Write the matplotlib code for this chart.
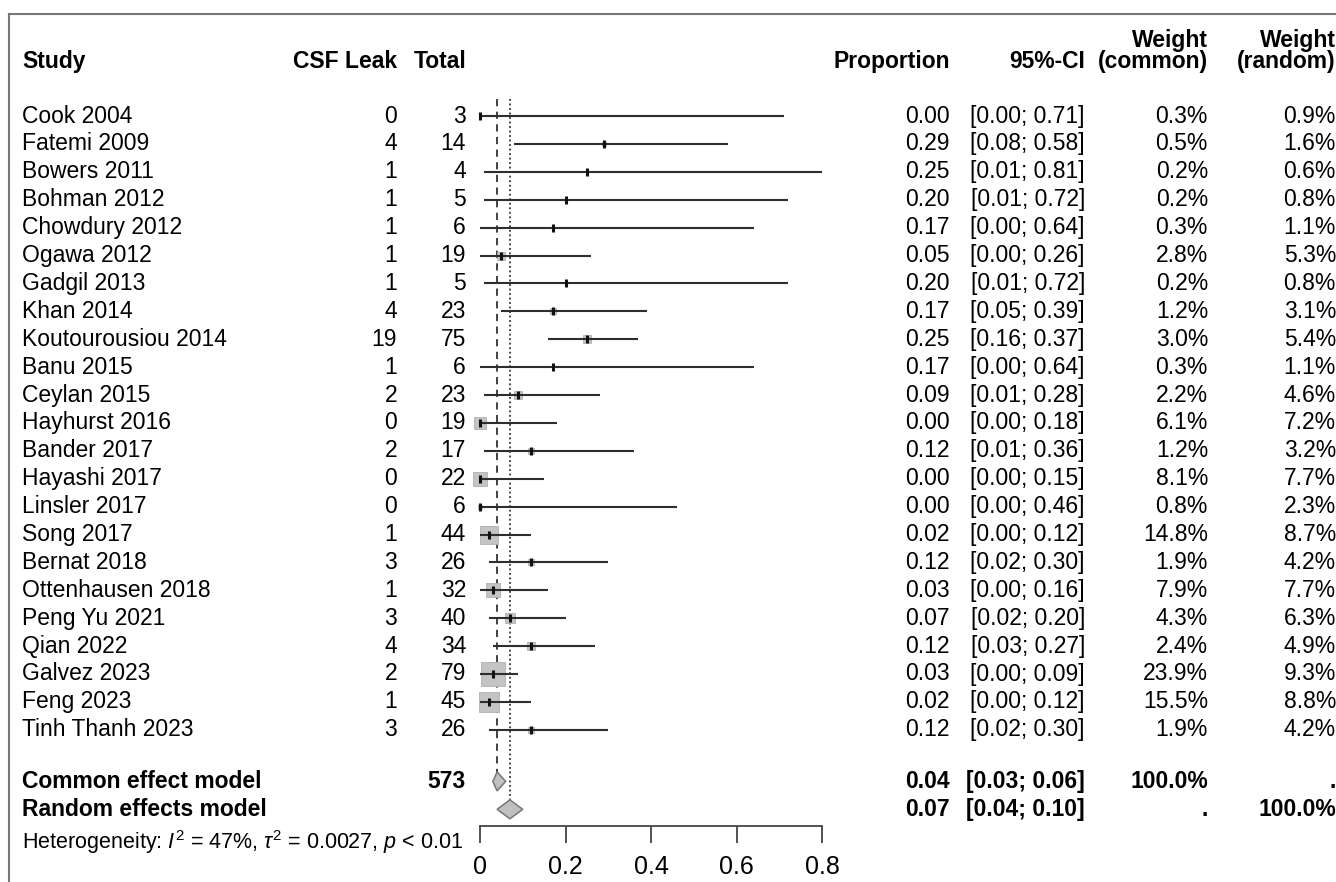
#!/usr/bin/env python3
from __future__ import annotations

import matplotlib
matplotlib.use("Agg")
import matplotlib.pyplot as plt
from matplotlib import transforms
from matplotlib.lines import Line2D
from matplotlib.patches import Polygon

plt.rcParams["font.family"] = ["Liberation Sans", "DejaVu Sans"]
plt.rcParams["mathtext.fontset"] = "custom"
plt.rcParams["mathtext.rm"] = "Liberation Sans"
plt.rcParams["mathtext.it"] = "Liberation Sans:italic"

studies = [
    "Cook 2004", "Fatemi 2009", "Bowers 2011", "Bohman 2012", "Chowdury 2012",
    "Ogawa 2012", "Gadgil 2013", "Khan 2014", "Koutourousiou 2014", "Banu 2015",
    "Ceylan 2015", "Hayhurst 2016", "Bander 2017", "Hayashi 2017", "Linsler 2017",
    "Song 2017", "Bernat 2018", "Ottenhausen 2018", "Peng Yu 2021", "Qian 2022",
    "Galvez 2023", "Feng 2023", "Tinh Thanh 2023",
]
events = [0, 4, 1, 1, 1, 1, 1, 4, 19, 1, 2, 0, 2, 0, 0, 1, 3, 1, 3, 4, 2, 1, 3]
totals = [3, 14, 4, 5, 6, 19, 5, 23, 75, 6, 23, 19, 17, 22, 6, 44, 26, 32, 40, 34, 79, 45, 26]
prop = [0.00, 0.29, 0.25, 0.20, 0.17, 0.05, 0.20, 0.17, 0.25, 0.17, 0.09, 0.00,
        0.12, 0.00, 0.00, 0.02, 0.12, 0.03, 0.07, 0.12, 0.03, 0.02, 0.12]
ci_low = [0.00, 0.08, 0.01, 0.01, 0.00, 0.00, 0.01, 0.05, 0.16, 0.00, 0.01, 0.00,
          0.01, 0.00, 0.00, 0.00, 0.02, 0.00, 0.02, 0.03, 0.00, 0.00, 0.02]
ci_high = [0.71, 0.58, 0.81, 0.72, 0.64, 0.26, 0.72, 0.39, 0.37, 0.64, 0.28, 0.18,
           0.36, 0.15, 0.46, 0.12, 0.30, 0.16, 0.20, 0.27, 0.09, 0.12, 0.30]
w_common = [0.3, 0.5, 0.2, 0.2, 0.3, 2.8, 0.2, 1.2, 3.0, 0.3, 2.2, 6.1, 1.2, 8.1,
            0.8, 14.8, 1.9, 7.9, 4.3, 2.4, 23.9, 15.5, 1.9]
w_random = [0.9, 1.6, 0.6, 0.8, 1.1, 5.3, 0.8, 3.1, 5.4, 1.1, 4.6, 7.2, 3.2, 7.7,
            2.3, 8.7, 4.2, 7.7, 6.3, 4.9, 9.3, 8.8, 4.2]

common_est, common_ci = 0.04, (0.03, 0.06)
random_est, random_ci = 0.07, (0.04, 0.10)
total_n = 573
axis_ticks = [0, 0.2, 0.4, 0.6, 0.8]

W, H = 1336, 882
FS = 16.5
fig = plt.figure(figsize=(W / 100, H / 100), dpi=100)

# forest panel: x 0..0.8 -> px 480..822, bottom at px 826
ax = fig.add_axes([480 / W, (H - 826) / H, (822 - 480) / W, 826 / H])
row_px = 27.9
y_top_px = 116
ax.set_xlim(0, 0.8)
ax.set_ylim((826 - y_top_px) / row_px, -y_top_px / row_px)
for s in ["top", "right", "left"]:
    ax.spines[s].set_visible(False)
ax.spines["bottom"].set_color("#444444")
ax.spines["bottom"].set_linewidth(1.3)
ax.set_yticks([])
ax.set_xticks(axis_ticks)
ax.set_xticklabels(["0" if t == 0 else f"{t:g}" for t in axis_ticks], fontsize=18)
ax.tick_params(axis="x", length=12, width=1.3, color="#444444", pad=9)
ax.patch.set_visible(False)

n = len(studies)
rows = list(range(n))
y_common = n + 0.85
y_random = n + 1.85
y_head = -1.94
y_head2 = -2.72
y_het = y_random + 1.17

# reference lines
ax.plot([common_est, common_est], [-0.6, y_common], ls=(0, (4, 3)), color="#333333", lw=1.3)
ax.plot([random_est, random_est], [-0.6, y_random], ls=(0, (1, 1.5)), color="#333333", lw=1.3)

for i in rows:
    side_pt = 4.9 * w_common[i] ** 0.5 / 1.389
    ax.plot(prop[i], i, marker="s", ms=side_pt, mfc="#c4c4c4", mec="#b0b0b0",
            mew=0.6, ls="none", clip_on=False, zorder=2)
    ax.plot([ci_low[i], min(ci_high[i], 0.8)], [i, i], color="#2e2e2e", lw=1.5,
            solid_capstyle="butt", zorder=3)
    ax.plot(prop[i], i, marker="|", ms=5.5, mew=2.2, color="#111111", ls="none",
            clip_on=False, zorder=4)

for est, (lo, hi), yy in [(common_est, common_ci, y_common), (random_est, random_ci, y_random)]:
    hh = 0.34
    ax.add_patch(Polygon([[lo, yy], [est, yy - hh], [hi, yy], [est, yy + hh]],
                         closed=True, fc="#c0c0c0", ec="#777777", lw=1.1, zorder=3, clip_on=False))

# text columns: x in figure pixels, y in row units
tr = transforms.blended_transform_factory(fig.transFigure, ax.transData)


def put(xpx, y, s, ha="right", bold=False, **kw):
    kw.setdefault("fontsize", FS)
    ax.text(xpx / W, y, s, transform=tr, ha=ha, va="center",
            fontweight="bold" if bold else "normal", clip_on=False, **kw)


put(22, y_head, "Study", ha="left", bold=True)
put(397, y_head, "CSF Leak", bold=True)
put(466, y_head, "Total", bold=True)
put(950, y_head, "Proportion", bold=True)
put(1085, y_head, "95%-CI", bold=True)
put(1208, y_head, "(common)", bold=True)
put(1208, y_head2, "Weight", bold=True)
put(1336, y_head, "(random)", bold=True)
put(1336, y_head2, "Weight", bold=True)

for i in rows:
    put(22, i, studies[i], ha="left")
    put(397, i, str(events[i]))
    put(466, i, str(totals[i]))
    put(950, i, f"{prop[i]:.2f}")
    put(1085, i, f"[{ci_low[i]:.2f}; {ci_high[i]:.2f}]")
    put(1208, i, f"{w_common[i]:.1f}%")
    put(1336, i, f"{w_random[i]:.1f}%")

put(22, y_common, "Common effect model", ha="left", bold=True)
put(466, y_common, str(total_n), bold=True)
put(950, y_common, f"{common_est:.2f}", bold=True)
put(1085, y_common, f"[{common_ci[0]:.2f}; {common_ci[1]:.2f}]", bold=True)
put(1208, y_common, "100.0%", bold=True)
put(1336, y_common, ".", bold=True)

put(22, y_random, "Random effects model", ha="left", bold=True)
put(950, y_random, f"{random_est:.2f}", bold=True)
put(1085, y_random, f"[{random_ci[0]:.2f}; {random_ci[1]:.2f}]", bold=True)
put(1208, y_random, ".", bold=True)
put(1336, y_random, "100.0%", bold=True)

put(22, y_het, r"Heterogeneity: $\mathit{I}^{2}$ = 47%, $\tau^{2}$ = 0.0027, $\mathit{p}$ < 0.01",
    ha="left", fontsize=15.5)

# outer frame (partly outside the canvas)
fig.add_artist(Line2D([9 / W, 1.0], [1 - 14 / H, 1 - 14 / H], transform=fig.transFigure,
                      color="#777777", lw=1.5))
fig.add_artist(Line2D([9 / W, 9 / W], [0, 1 - 14 / H], transform=fig.transFigure,
                      color="#777777", lw=1.5))

fig.savefig("out.png", dpi=100, facecolor="white")
